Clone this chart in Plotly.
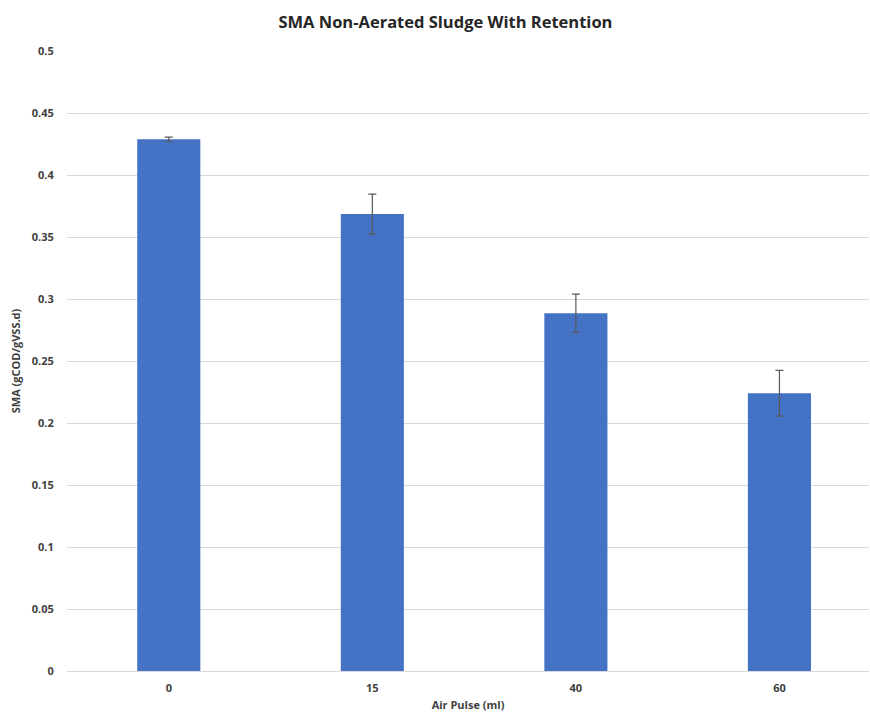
import plotly.graph_objects as go

categories = ["0", "15", "40", "60"]
sma_values = [0.4288, 0.3685, 0.2885, 0.2240]
sma_errors = [0.0018, 0.0160, 0.0155, 0.0185]
y_ticks = [0, 0.05, 0.1, 0.15, 0.2, 0.25, 0.3, 0.35, 0.4, 0.45, 0.5]
y_tick_labels = ["0", "0.05", "0.1", "0.15", "0.2", "0.25", "0.3", "0.35", "0.4", "0.45", "0.5"]

x_pos = list(range(len(categories)))

fig = go.Figure(
    go.Bar(
        x=x_pos,
        y=sma_values,
        width=0.31,
        marker=dict(color="#4472C4", line=dict(width=0)),
        error_y=dict(type="data", array=sma_errors, visible=True,
                     color="#595959", thickness=1.2, width=4),
    )
)

font_fam = "Open Sans, Liberation Sans, sans-serif"
fig.update_layout(
    width=870, height=713,
    margin=dict(l=67, r=1, t=51, b=42),
    paper_bgcolor="white", plot_bgcolor="white",
    showlegend=False,
    title=dict(text="<b>SMA Non-Aerated Sludge With Retention</b>",
               x=0.512, xanchor="center", y=0.969, yanchor="middle",
               font=dict(family=font_fam, size=16.5, color="#262626")),
    xaxis=dict(range=[-0.5, 3.44], tickvals=x_pos,
               ticktext=[f"<b>{c}</b>" for c in categories],
               showgrid=False, zeroline=False, showline=False,
               ticks="outside", ticklen=7, tickcolor="rgba(0,0,0,0)",
               tickfont=dict(family=font_fam, size=11, color="#404040"),
               title=dict(text="<b>Air Pulse (ml)</b>", standoff=7,
                          font=dict(family=font_fam, size=11, color="#404040"))),
    yaxis=dict(range=[0, 0.5], tickvals=y_ticks,
               ticktext=[f"<b>{t}</b>" for t in y_tick_labels],
               showgrid=True, gridcolor="#D9D9D9", gridwidth=1,
               zeroline=True, zerolinecolor="#D9D9D9", zerolinewidth=1,
               showline=False, ticks="outside", ticklen=10,
               tickcolor="rgba(0,0,0,0)",
               tickfont=dict(family=font_fam, size=11, color="#404040"),
               title=dict(text="<b>SMA (gCOD/gVSS.d)</b>", standoff=8,
                          font=dict(family=font_fam, size=11, color="#404040"))),
)

fig.write_html("out.html", config={"displayModeBar": False},
               post_script="document.body.style.margin='0';")
